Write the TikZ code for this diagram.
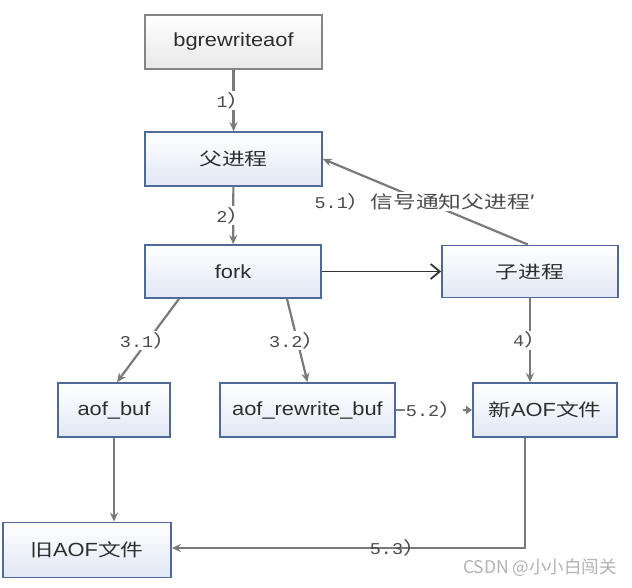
\documentclass[tikz,border=0pt]{standalone}
\usepackage{fontspec}
\usetikzlibrary{arrows.meta}
\newfontfamily\lat[FakeStretch=1.15]{Liberation Sans}
\newfontfamily\cjk[FakeStretch=1.3]{Noto Sans CJK SC}
\newfontfamily\mono[FakeStretch=1.12]{Liberation Mono}
\newfontfamily\wmfont{Noto Sans CJK SC}
\definecolor{bordblue}{HTML}{4F6A96}
\definecolor{fillblue}{HTML}{E0E8F5}
\definecolor{bordgray}{HTML}{858585}
\definecolor{fillgray}{HTML}{E8E8E8}
\definecolor{linegray}{HTML}{7A7A7A}
\definecolor{txt}{HTML}{2E2E2E}
\definecolor{lbl}{HTML}{4A4A4A}
\newcommand\la[1]{{\lat\fontsize{19}{21}\selectfont #1}}
\newcommand\cj[1]{{\cjk\fontsize{17.5}{20}\selectfont #1}}
\newcommand\lbnum[1]{{\mono\fontsize{16.5}{18}\selectfont #1}}
\begin{document}
\begin{tikzpicture}[x=1pt,y=-1pt,
  box/.style={draw=bordblue,line width=1.8pt,top color=white,bottom color=fillblue,minimum height=54pt,inner sep=0pt,text=txt},
  graybox/.style={box,draw=bordgray,bottom color=fillgray},
  conn/.style={draw=linegray,line width=2.2pt,-{Stealth[length=9pt,width=8pt]}},
  lab/.style={fill=white,inner sep=1pt,text=lbl}]
\fill[white] (0,0) rectangle (632,587);
\useasboundingbox (0,0) rectangle (632,587);

\node[graybox,minimum width=177pt] (bg) at (233.5,42) {\la{bgrewriteaof}};
\node[box,minimum width=177pt] (fu) at (233.5,159) {\cj{父进程}};
\node[box,minimum width=176pt,minimum height=53pt] (fork) at (233,271.5) {\la{fork}};
\node[box,minimum width=176pt,minimum height=52pt] (zi) at (530,271.5) {\cj{子进程}};
\node[box,minimum width=112pt] (ab) at (114,410) {\la{aof\_buf}};
\node[box,minimum width=175pt] (arb) at (307.5,410) {\la{aof\_rewrite\_buf}};
\node[box,minimum width=144pt] (new) at (545,410) {\cj{新}\la{AOF}\cj{文件}};
\node[box,minimum width=168pt,minimum height=55pt] (old) at (87,550) {\cj{旧}\la{AOF}\cj{文件}};

\draw[conn] (bg) -- node[lab]{\lbnum{1}\cj{）}} (fu);
\draw[conn] (fu) -- node[lab]{\lbnum{2}\cj{）}} (fork);
\draw[line width=1.8pt,draw=black!80,-{Straight Barb[length=9pt,width=15pt]}] (fork) -- (zi);
\draw[conn] ([xshift=-2pt]zi.north) -- node[lab]{\lbnum{5.1}\cj{）信号通知父进程′}} (fu.east);
\draw[conn] ([xshift=-54pt]fork.south) -- node[lab]{\lbnum{3.1}\cj{）}} ([xshift=3pt]ab.north);
\draw[conn] ([xshift=54pt]fork.south) -- node[lab]{\lbnum{3.2}\cj{）}} (arb.north);
\draw[conn] (zi.south) -- node[lab]{\lbnum{4}\cj{）}} (zi.south |- new.north);
\draw[draw=linegray,line width=2.2pt,-{Triangle[length=6pt,width=8pt]}] (arb) -- node[lab]{\lbnum{5.2}\cj{）}} (new);
\draw[conn] (ab.south) -- (ab.south |- old.north);
\draw[conn] ([xshift=-20pt]new.south) |- node[pos=0.68,text=lbl,inner sep=0pt]{\lbnum{5.3}\cj{）}} ([yshift=2pt]old.east);

\node[anchor=east,text=black!30,inner sep=0pt] (wm) at (617,568) {\wmfont\fontsize{17.5}{19}\selectfont CSDN @小小白闯关};
\end{tikzpicture}
\end{document}
